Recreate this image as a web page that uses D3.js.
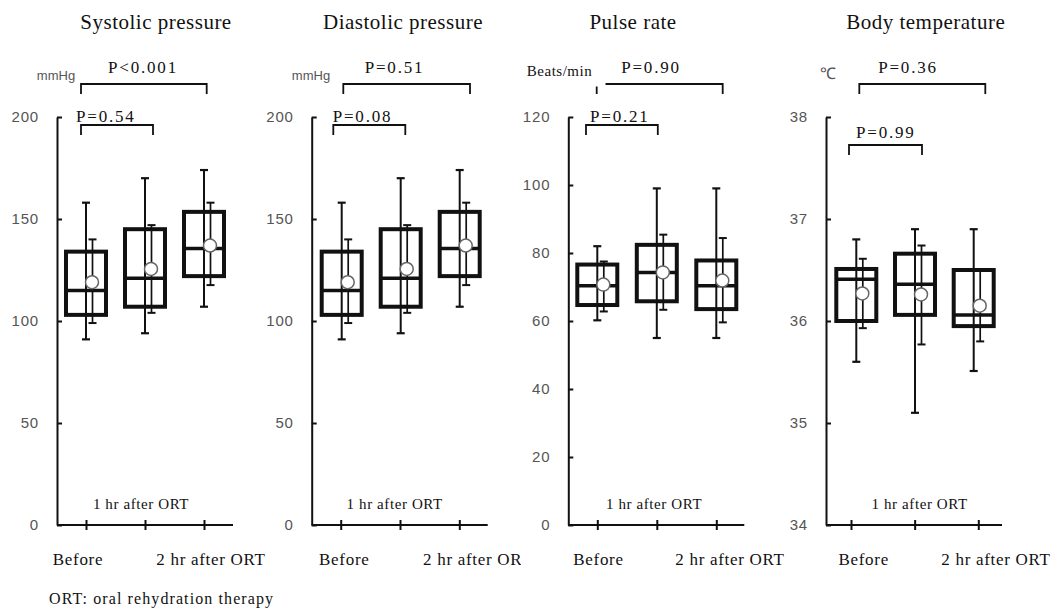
<!DOCTYPE html>
<html>
<head>
<meta charset="utf-8">
<script src="https://cdn.jsdelivr.net/npm/d3@7"></script>
<style>
  body { margin: 0; background: #fff; }
  svg { display: block; }
</style>
</head>
<body>
<script>
// Data
const categories = ["Before", "1 hr after ORT", "2 hr after ORT"];
const panelTitles = ["Systolic pressure", "Diastolic pressure", "Pulse rate", "Body temperature"];
const unitLabels = ["mmHg", "mmHg", "Beats/min", "\u2103"];
const yDomains = [[0, 200], [0, 200], [0, 120], [34, 38]];
const yTickValues = [
  [0, 50, 100, 150, 200],
  [0, 50, 100, 150, 200],
  [0, 20, 40, 60, 80, 100, 120],
  [34, 35, 36, 37, 38]
];
const pUpper = ["P<0.001", "P=0.51", "P=0.90", "P=0.36"];
const pLower = ["P=0.54", "P=0.08", "P=0.21", "P=0.99"];

// box: min, q1, median, q3, max ; mean bar: mean, low, high
const systolicMin    = [91, 94, 107];
const systolicQ1     = [103, 107, 122];
const systolicMedian = [115, 121, 135.5];
const systolicQ3     = [134, 145, 153.5];
const systolicMax    = [158, 170, 174];
const systolicMean   = [119, 125.5, 137];
const systolicLow    = [99, 104, 117.6];
const systolicHigh   = [140, 147, 158];

const diastolicMin    = [91, 94, 107];
const diastolicQ1     = [103, 107, 122];
const diastolicMedian = [115, 121, 135.5];
const diastolicQ3     = [134, 145, 153.5];
const diastolicMax    = [158, 170, 174];
const diastolicMean   = [119, 125.5, 137];
const diastolicLow    = [99, 104, 117.6];
const diastolicHigh   = [140, 147, 158];

const pulseMin    = [60.2, 55, 55];
const pulseQ1     = [64.7, 65.8, 63.5];
const pulseMedian = [70.4, 74.3, 70.4];
const pulseQ3     = [76.6, 82.4, 77.8];
const pulseMax    = [82, 99, 99];
const pulseMean   = [70.7, 74.3, 71.9];
const pulseLow    = [62.8, 63.3, 59.6];
const pulseHigh   = [77.5, 85.4, 84.4];

const tempMin    = [35.6, 35.1, 35.51];
const tempQ1     = [36.0, 36.06, 35.95];
const tempMedian = [36.41, 36.36, 36.06];
const tempQ3     = [36.51, 36.66, 36.5];
const tempMax    = [36.8, 36.9, 36.9];
const tempMean   = [36.27, 36.26, 36.15];
const tempLow    = [35.93, 35.77, 35.8];
const tempHigh   = [36.61, 36.74, 36.5];

const panelStats = [
  {min: systolicMin, q1: systolicQ1, med: systolicMedian, q3: systolicQ3, max: systolicMax, mean: systolicMean, lo: systolicLow, hi: systolicHigh},
  {min: diastolicMin, q1: diastolicQ1, med: diastolicMedian, q3: diastolicQ3, max: diastolicMax, mean: diastolicMean, lo: diastolicLow, hi: diastolicHigh},
  {min: pulseMin, q1: pulseQ1, med: pulseMedian, q3: pulseQ3, max: pulseMax, mean: pulseMean, lo: pulseLow, hi: pulseHigh},
  {min: tempMin, q1: tempQ1, med: tempMedian, q3: tempQ3, max: tempMax, mean: tempMean, lo: tempLow, hi: tempHigh}
];

// Layout of each panel (pixels)
const panelLayout = [
  {axisX: 57, box: [29, 147], tick: [29, 147], title: 156, unit: 56, unitY: 80, pUp: 143, pLowX: 76,
   upBr: [-5, 2.7], lowBr: [-5, 8], lowBrY: 125, pLowY: 121.5, lab: [-8, -4, 7], clip: null},
  {axisX: 311.7, box: [30, 148], tick: [29, 147.6], title: 403, unit: 311, unitY: 80, pUp: 394.5, pLowX: 332.7,
   upBr: [1.6, 10.3], lowBr: [-8.4, 4.6], lowBrY: 125, pLowY: 121.5, lab: [3.6, -5.3, 18.4], clip: 521},
  {axisX: 568.3, box: [29, 148], tick: [29, 148], title: 633, unit: 559.5, unitY: 76, pUp: 651, pLowX: 590,
   upBr: [-0.6, 6.4], lowBr: [-11.3, 1], lowBrY: 125, pLowY: 121.5, lab: [1.2, -2.7, 13.7], clip: null},
  {axisX: 826, box: [30.3, 147.7], tick: [25, 152.3], title: 925.7, unit: 827.5, unitY: 79, pUp: 908, pLowX: 856,
   upBr: [3, 11.6], lowBr: [-7.3, 7], lowBrY: 145, pLowY: 137.7, lab: [12.7, 5, 17.7], clip: null}
];

const width = 1053, height = 611;
const yTop = 117, yBottom = 525, axisLen = 176;
const serif = "'Liberation Serif', 'Times New Roman', serif";
const sans = "'Liberation Sans', Arial, sans-serif";
const ink = "#111";

const svg = d3.select("body").append("svg")
  .attr("width", width)
  .attr("height", height);

svg.append("defs").append("clipPath").attr("id", "clip2")
  .append("rect").attr("x", 0).attr("y", 0).attr("width", panelLayout[1].clip).attr("height", height);

panelTitles.forEach((title, i) => {
  const L = panelLayout[i];
  const s = panelStats[i];
  const g = svg.append("g");

  const y = d3.scaleLinear().domain(yDomains[i]).range([yBottom, yTop]);
  const xBox = d3.scalePoint().domain(categories)
    .range([L.axisX + L.box[0], L.axisX + L.box[1]]);
  const xTick = d3.scalePoint().domain(categories)
    .range([L.axisX + L.tick[0], L.axisX + L.tick[1]]);

  // Title
  g.append("text")
    .attr("x", L.title).attr("y", 29)
    .attr("text-anchor", "middle")
    .style("font-family", serif).style("font-size", "21px")
    .style("letter-spacing", "0.5px")
    .attr("fill", ink)
    .text(title);

  // Upper bracket (Before vs 2 hr)
  const ux0 = xBox(categories[0]) + L.upBr[0], ux1 = xBox(categories[2]) + L.upBr[1];
  g.append("path")
    .attr("d", `M${ux0},94V84H${ux1}V94`)
    .attr("fill", "none").attr("stroke", ink).attr("stroke-width", 1.8);
  g.append("text")
    .attr("x", L.pUp).attr("y", 72.5)
    .attr("text-anchor", "middle")
    .style("font-family", serif).style("font-size", "17px").style("letter-spacing", "1.8px")
    .attr("fill", ink)
    .text(pUpper[i]);

  // Lower bracket (Before vs 1 hr)
  const lx0 = xBox(categories[0]) + L.lowBr[0], lx1 = xBox(categories[1]) + L.lowBr[1];
  g.append("path")
    .attr("d", `M${lx0},${L.lowBrY + 10}V${L.lowBrY}H${lx1}V${L.lowBrY + 10}`)
    .attr("fill", "none").attr("stroke", ink).attr("stroke-width", 1.8);
  g.append("text")
    .attr("x", L.pLowX).attr("y", L.pLowY)
    .style("font-family", serif).style("font-size", "17px").style("letter-spacing", "1.8px")
    .attr("fill", ink)
    .text(pLower[i]);

  // Unit label (Beats/min sits on a white text box that hides part of the bracket)
  if (unitLabels[i] === "Beats/min") {
    g.append("rect")
      .attr("x", L.unit - 37).attr("y", 60).attr("width", 83).attr("height", 26.5)
      .attr("fill", "#fff");
    g.append("text")
      .attr("x", L.unit).attr("y", L.unitY)
      .attr("text-anchor", "middle")
      .style("font-family", serif).style("font-size", "15px").style("letter-spacing", "0.5px")
      .attr("fill", ink)
      .text(unitLabels[i]);
  } else {
    g.append("text")
      .attr("x", L.unit).attr("y", L.unitY)
      .attr("text-anchor", "middle")
      .style("font-family", sans).style("font-size", unitLabels[i] === "mmHg" ? "13px" : "16px")
      .attr("fill", "#555")
      .text(unitLabels[i]);
  }

  // Y axis
  const yAxis = g.append("g")
    .attr("transform", `translate(${L.axisX},0)`)
    .call(d3.axisLeft(y).tickValues(yTickValues[i]).tickFormat(d3.format("d"))
      .tickSizeInner(-5).tickSizeOuter(0).tickPadding(18));
  yAxis.select(".domain").attr("stroke", ink).attr("stroke-width", 2);
  yAxis.selectAll(".tick line").attr("stroke", ink).attr("stroke-width", 2);
  yAxis.selectAll(".tick text")
    .attr("fill", "#555")
    .style("font-family", sans).style("font-size", "15px").style("letter-spacing", "0.8px");

  // X axis
  g.append("line")
    .attr("x1", L.axisX).attr("x2", L.axisX + axisLen)
    .attr("y1", yBottom).attr("y2", yBottom)
    .attr("stroke", ink).attr("stroke-width", 2);
  const xAxis = g.append("g")
    .attr("transform", `translate(0,${yBottom})`)
    .call(d3.axisBottom(xTick).tickSize(5).tickFormat(""));
  xAxis.select(".domain").remove();
  xAxis.selectAll(".tick line").attr("y1", -5).attr("stroke", ink).attr("stroke-width", 2);

  // Category labels
  const labelG = g.append("g");
  if (L.clip) labelG.attr("clip-path", "url(#clip2)");
  categories.forEach((c, j) => {
    labelG.append("text")
      .attr("x", xTick(c) + L.lab[j])
      .attr("y", j === 1 ? 509 : 565)
      .attr("text-anchor", "middle")
      .style("font-family", serif)
      .style("font-size", j === 1 ? "15px" : "17px")
      .style("letter-spacing", j === 1 ? "0.6px" : "0.7px")
      .attr("fill", ink)
      .text(c);
  });

  // Boxes
  categories.forEach((c, j) => {
    const cx = xBox(c);
    const mx = cx + 6.5;
    const bw = 40, cap = 4;

    // min-max whisker
    g.append("line").attr("x1", cx).attr("x2", cx)
      .attr("y1", y(s.min[j])).attr("y2", y(s.max[j]))
      .attr("stroke", ink).attr("stroke-width", 2);
    [s.min[j], s.max[j]].forEach(v => {
      g.append("line").attr("x1", cx - cap).attr("x2", cx + cap)
        .attr("y1", y(v)).attr("y2", y(v))
        .attr("stroke", ink).attr("stroke-width", 2.2);
    });

    // mean bar
    g.append("line").attr("x1", mx).attr("x2", mx)
      .attr("y1", y(s.lo[j])).attr("y2", y(s.hi[j]))
      .attr("stroke", ink).attr("stroke-width", 1.7);
    [s.lo[j], s.hi[j]].forEach(v => {
      g.append("line").attr("x1", mx - cap).attr("x2", mx + cap)
        .attr("y1", y(v)).attr("y2", y(v))
        .attr("stroke", ink).attr("stroke-width", 2);
    });

    // interquartile box
    g.append("rect")
      .attr("x", cx - bw / 2).attr("width", bw)
      .attr("y", y(s.q3[j])).attr("height", y(s.q1[j]) - y(s.q3[j]))
      .attr("fill", "none").attr("stroke", ink).attr("stroke-width", 4);
    g.append("line")
      .attr("x1", cx - bw / 2).attr("x2", cx + bw / 2)
      .attr("y1", y(s.med[j])).attr("y2", y(s.med[j]))
      .attr("stroke", ink).attr("stroke-width", 3.5);

    // mean marker
    g.append("circle")
      .attr("cx", mx - 0.5).attr("cy", y(s.mean[j])).attr("r", 6.5)
      .attr("fill", "#fff").attr("stroke", "#666").attr("stroke-width", 1.5);
  });
});

// Footnote
svg.append("text")
  .attr("x", 49).attr("y", 604)
  .style("font-family", serif).style("font-size", "16px").style("letter-spacing", "1.1px")
  .attr("fill", ink)
  .text("ORT: oral rehydration therapy");
</script>
</body>
</html>
